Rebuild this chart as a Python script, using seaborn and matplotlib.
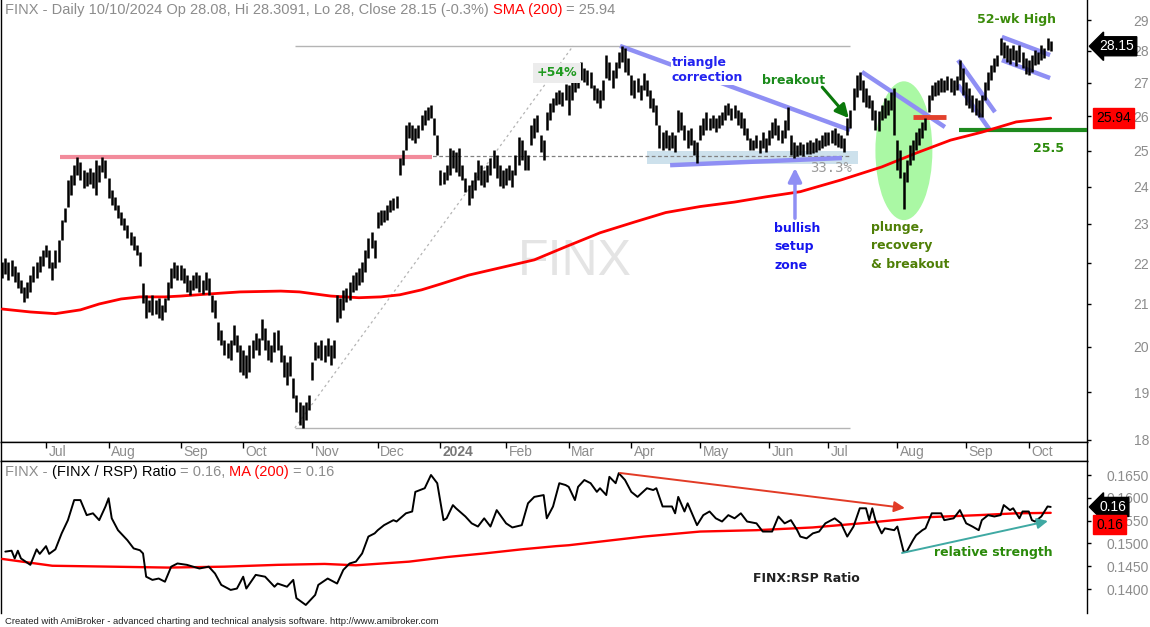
import numpy as np
import pandas as pd
import matplotlib
matplotlib.use("Agg")
import matplotlib.pyplot as plt
import seaborn as sns
from matplotlib.patches import Ellipse, Rectangle

# ---------------- data ----------------
holidays = ["2023-06-19", "2023-07-04", "2023-09-04", "2023-11-23", "2023-12-25",
            "2024-01-01", "2024-01-15", "2024-02-19", "2024-03-29", "2024-05-27",
            "2024-06-19", "2024-07-04", "2024-09-02"]
dates = pd.bdate_range("2023-06-12", "2024-10-10")
dates = dates[~dates.isin(pd.to_datetime(holidays))]

high = [
    # Jun 2023
    22.03, 22.13, 22.03, 22.08, 21.93, 21.78, 21.58, 21.41, 21.53, 21.70, 21.93, 22.03, 22.18, 22.33,
    # Jul
    22.46, 22.33, 22.03, 22.33, 22.59, 23.10, 23.42, 24.18, 24.32, 24.60, 24.82, 24.68, 24.46, 24.40,
    24.51, 24.40, 24.73, 24.60, 24.82, 24.73,
    # Aug
    24.24, 23.91, 23.72, 23.50, 23.32, 23.15, 22.97, 22.79, 22.69, 22.46, 22.28, 21.51, 21.22, 21.10,
    21.22, 21.10, 21.15, 20.98, 21.15, 21.53, 21.88, 22.03, 21.96,
    # Sep
    21.96, 21.88, 21.70, 21.58, 21.70, 21.78, 21.70, 21.58, 21.78, 21.63, 21.22, 21.10, 20.58, 20.39,
    20.16, 20.09, 20.16, 20.51, 20.28, 20.05,
    # Oct
    19.93, 19.82, 20.05, 20.16, 20.32, 20.20, 20.65, 20.44, 20.16, 20.05, 20.34, 20.39, 20.05, 19.82,
    19.66, 19.80, 19.30, 18.93, 18.79, 18.72, 18.79, 18.93,
    # Nov
    19.66, 20.11, 20.05, 20.16, 20.05, 20.20, 20.05, 20.16, 21.22, 21.15, 21.34, 21.39, 21.53, 21.70,
    21.78, 21.88, 22.03, 22.33, 22.64, 22.79, 22.59,
    # Dec
    23.31, 23.37, 23.37, 23.50, 23.64, 23.70, 23.75, 24.79, 25.02, 25.74, 25.83, 25.74, 25.65, 25.74,
    26.03, 26.18, 26.27, 26.33, 25.95, 25.45,
    # Jan 2024
    24.46, 24.40, 24.60, 25.08, 25.02, 24.96, 25.08, 24.60, 24.24, 24.05, 24.18, 24.40, 24.73, 24.60,
    24.46, 24.60, 24.79, 25.02, 24.88, 24.60, 24.46,
    # Feb
    24.51, 24.60, 24.46, 24.88, 25.39, 25.30, 25.02, 24.88, 25.74, 25.95, 26.03, 25.45, 25.30, 26.12,
    26.39, 26.54, 26.72, 26.78, 26.72, 26.97,
    # Mar
    26.94, 27.09, 27.25, 27.34, 27.65, 27.46, 27.40, 27.34, 26.94, 26.84, 26.78, 27.09, 27.87, 27.65,
    27.40, 27.65, 27.97, 28.16, 28.10, 27.78,
    # Apr
    27.25, 27.09, 27.15, 26.94, 27.31, 27.09, 26.78, 26.54, 26.33, 25.74, 25.54, 25.59, 25.45, 25.54,
    25.45, 26.18, 26.12, 25.74, 25.59, 25.65, 25.30, 25.25,
    # May
    25.74, 25.95, 26.12, 25.95, 26.03, 25.95, 26.03, 26.12, 26.33, 26.39, 26.24, 26.33, 26.18, 26.12,
    25.95, 25.65, 25.36, 25.30, 25.45, 25.30, 25.54, 25.36,
    # Jun
    25.59, 25.83, 25.95, 25.74, 25.59, 25.89, 26.27, 25.45, 25.25, 25.16, 25.25, 25.19, 25.25, 25.30,
    25.25, 25.36, 25.30, 25.45, 25.54,
    # Jul
    25.54, 25.59, 25.65, 25.50, 25.45, 25.36, 25.95, 26.18, 26.84, 27.25, 27.34, 27.09, 26.84, 26.63,
    26.48, 26.18, 26.15, 26.33, 26.54, 26.48, 26.72, 26.84,
    # Aug
    25.30, 25.02, 24.40, 24.73, 25.16, 25.30, 25.54, 25.65, 25.83, 25.95, 26.63, 26.94, 27.03, 27.09,
    27.15, 27.09, 27.21, 27.15, 27.09, 27.21, 27.71, 27.46,
    # Sep
    27.03, 26.84, 26.63, 26.54, 26.48, 26.63, 27.03, 27.34, 27.56, 27.78, 27.87, 28.41, 28.29, 28.19,
    28.10, 28.19, 28.03, 28.19, 27.97, 27.78,
    # Oct
    27.71, 27.87, 28.03, 27.97, 28.19, 28.10, 28.41, 28.31,
]

low = [
    # Jun 2023
    21.63, 21.73, 21.58, 21.68, 21.53, 21.39, 21.27, 21.05, 21.15, 21.29, 21.53, 21.63, 21.78, 21.93,
    # Jul
    22.16, 21.88, 21.58, 21.88, 22.03, 22.59, 23.05, 23.45, 23.78, 24.05, 24.32, 24.18, 23.96, 24.02,
    24.07, 23.96, 23.78, 24.13, 24.40, 24.24,
    # Aug
    23.69, 23.50, 23.37, 23.15, 22.97, 22.84, 22.64, 22.46, 22.33, 22.21, 21.93, 21.03, 20.67, 20.81,
    20.74, 20.76, 20.67, 20.62, 20.81, 21.10, 21.39, 21.63, 21.58,
    # Sep
    21.58, 21.51, 21.29, 21.22, 21.34, 21.39, 21.29, 21.25, 21.34, 21.22, 20.81, 20.67, 20.16, 20.05,
    19.82, 19.75, 19.71, 20.05, 19.89, 19.44,
    # Oct
    19.37, 19.30, 19.44, 19.75, 19.93, 19.82, 20.16, 19.93, 19.71, 19.66, 19.89, 19.93, 19.66, 19.33,
    19.15, 19.35, 18.87, 18.58, 18.31, 18.24, 18.41, 18.62,
    # Nov
    19.26, 19.71, 19.75, 19.71, 19.66, 19.80, 19.60, 19.75, 20.58, 20.67, 20.86, 21.05, 21.10, 21.29,
    21.34, 21.46, 21.53, 21.78, 22.13, 22.38, 22.13,
    # Dec
    22.89, 22.97, 23.05, 23.10, 23.31, 23.37, 23.42, 24.32, 24.60, 25.02, 25.36, 25.30, 25.22, 25.36,
    25.59, 25.74, 25.89, 25.95, 25.45, 24.88,
    # Jan 2024
    24.05, 24.07, 24.18, 24.32, 24.51, 24.40, 24.29, 24.18, 23.86, 23.50, 23.69, 23.91, 24.18, 24.05,
    23.99, 24.13, 24.32, 24.51, 24.24, 24.02, 23.96,
    # Feb
    24.05, 24.18, 23.99, 24.32, 24.60, 24.73, 24.46, 24.46, 25.16, 25.36, 25.54, 24.96, 24.73, 25.59,
    25.89, 26.12, 26.33, 26.36, 26.30, 26.48,
    # Mar
    26.03, 26.48, 26.72, 26.84, 27.09, 27.03, 26.94, 26.84, 26.48, 26.39, 26.24, 26.48, 27.15, 27.09,
    26.84, 27.15, 27.46, 27.65, 27.34, 27.25,
    # Apr
    26.63, 26.54, 26.72, 26.48, 26.78, 26.60, 26.24, 26.12, 25.74, 25.08, 25.02, 25.08, 25.02, 25.08,
    24.96, 25.54, 25.59, 25.30, 25.08, 25.16, 24.88, 24.65,
    # May
    25.30, 25.45, 25.59, 25.59, 25.65, 25.54, 25.65, 25.74, 25.89, 26.03, 25.89, 25.95, 25.74, 25.65,
    25.45, 25.30, 25.02, 25.02, 25.08, 24.94, 25.08, 24.96,
    # Jun
    25.16, 25.36, 25.45, 25.30, 25.22, 25.36, 25.59, 24.88, 24.79, 24.85, 24.88, 24.85, 24.91, 24.91,
    24.94, 24.96, 25.02, 25.08, 25.13,
    # Jul
    25.16, 25.22, 25.16, 25.11, 25.08, 24.96, 25.45, 25.65, 26.18, 26.57, 26.78, 26.42, 26.27, 26.24,
    25.89, 25.59, 25.56, 25.89, 25.95, 26.03, 26.18, 25.45,
    # Aug
    24.46, 24.24, 23.40, 24.13, 24.60, 24.73, 25.02, 25.16, 25.36, 25.59, 26.12, 26.48, 26.60, 26.63,
    26.72, 26.72, 26.78, 26.72, 26.63, 26.78, 27.09, 26.63,
    # Sep
    26.33, 26.24, 26.12, 26.03, 25.98, 25.98, 26.48, 26.78, 27.09, 27.34, 27.53, 27.87, 27.78, 27.65,
    27.59, 27.71, 27.53, 27.65, 27.46, 27.28,
    # Oct
    27.25, 27.34, 27.56, 27.59, 27.71, 27.78, 28.03, 28.00,
]

# 200-day SMA of price (bar number, value)
sma_bar = [0, 9, 17, 25, 31, 38, 44, 52, 57, 66, 76, 89, 95, 105, 114, 121, 127, 134, 140, 149,
           159, 170, 180, 191, 202, 212, 223, 234, 244, 255, 268, 281, 292, 303, 313, 324, 335]
sma_val = [20.88, 20.81, 20.77, 20.86, 21.00, 21.12, 21.17, 21.17, 21.19, 21.24, 21.29, 21.31,
           21.29, 21.19, 21.15, 21.17, 21.22, 21.34, 21.48, 21.70, 21.88, 22.08, 22.41, 22.77,
           23.05, 23.30, 23.46, 23.58, 23.72, 23.86, 24.18, 24.54, 24.93, 25.30, 25.53, 25.83, 25.94]

# FINX / RSP ratio (bar number, value)
ratio_bar = [1, 3, 4, 5, 6, 9, 11, 12, 14, 15, 17, 19, 21, 22, 23, 25, 27, 29, 31, 33, 34, 35, 37,
             40, 42, 44, 45, 46, 48, 50, 52, 54, 56, 59, 61, 63, 66, 68, 70, 73, 75, 77, 78, 81,
             84, 87, 88, 91, 93, 94, 97, 100, 101, 104, 107, 109, 111, 113, 115, 117, 119, 120,
             122, 125, 126, 129, 131, 132, 135, 137, 139, 141, 142, 144, 145, 148, 150, 152, 154,
             156, 158, 161, 163, 166, 168, 170, 173, 174, 176, 178, 180,
             181, 183, 184, 186, 188, 190, 191, 193, 194, 196, 197, 199, 201, 203, 206, 208, 209,
             211, 214, 215, 216, 218, 219, 222, 224, 226, 228, 230, 232, 234, 236, 238, 241, 243,
             246, 248, 250, 252, 254, 255, 257, 259, 261, 263, 266, 268, 270, 272, 274, 276, 277,
             278, 279, 281, 282, 285, 286, 288, 289, 291, 292, 294, 295, 297, 300, 301, 304, 306,
             308, 310, 312, 313, 315, 317, 319, 320, 322, 323, 325, 326, 328, 329, 330, 332, 333,
             334, 335]
ratio_val = [0.1482, 0.1484, 0.1467, 0.1484, 0.1467, 0.1453, 0.1487, 0.1477, 0.1494, 0.1477,
             0.1487, 0.1522, 0.1551, 0.1573, 0.1595, 0.1595, 0.1562, 0.1566, 0.1551, 0.1581,
             0.1599, 0.1555, 0.1529, 0.1507, 0.1489, 0.1485, 0.1478, 0.1427, 0.1420, 0.1423,
             0.1416, 0.1449, 0.1456, 0.1453, 0.1449, 0.1445, 0.1449, 0.1434, 0.1409, 0.1398,
             0.1401, 0.1427, 0.1401, 0.1431, 0.1427, 0.1405, 0.1412, 0.1405, 0.1420, 0.1380,
             0.1365, 0.1387, 0.1409, 0.1423, 0.1412, 0.1442, 0.1456, 0.1460, 0.1478, 0.1515,
             0.1522, 0.1529, 0.1540, 0.1551, 0.1548, 0.1566, 0.1570, 0.1613, 0.1621, 0.1650,
             0.1632, 0.1551, 0.1555, 0.1584, 0.1577, 0.1559, 0.1544, 0.1537, 0.1555, 0.1537,
             0.1573, 0.1544, 0.1535, 0.1540, 0.1588, 0.1602, 0.1606, 0.1555, 0.1581, 0.1632,
             0.1628,
             0.1624, 0.1595, 0.1624, 0.1639, 0.1632, 0.1613, 0.1621, 0.1606, 0.1646, 0.1632,
             0.1654, 0.1639, 0.1613, 0.1602, 0.1621, 0.1617, 0.1621, 0.1581, 0.1581, 0.1566,
             0.1602, 0.1570, 0.1588, 0.1540, 0.1562, 0.1570, 0.1555, 0.1548, 0.1562, 0.1555,
             0.1566, 0.1548, 0.1544, 0.1526, 0.1526, 0.1559, 0.1544, 0.1551, 0.1529, 0.1515,
             0.1511, 0.1522, 0.1526, 0.1544, 0.1555, 0.1544, 0.1515, 0.1537, 0.1577, 0.1577,
             0.1551, 0.1577, 0.1551, 0.1522, 0.1533, 0.1529, 0.1537, 0.1482, 0.1482, 0.1507,
             0.1518, 0.1529, 0.1533, 0.1566, 0.1566, 0.1551, 0.1555, 0.1573, 0.1544, 0.1537,
             0.1529, 0.1551, 0.1562, 0.1559, 0.1562, 0.1584, 0.1573, 0.1577, 0.1555, 0.1570,
             0.1570, 0.1551, 0.1548, 0.1559, 0.1570, 0.1581, 0.1580]

# 200-day MA of the ratio
ratio_ma_bar = [0, 16, 35, 53, 71, 88, 103, 113, 130, 142, 154, 166, 177, 181, 205, 223, 241,
                259, 276, 294, 312, 324, 335]
ratio_ma_val = [0.1466, 0.1451, 0.1449, 0.1447, 0.1449, 0.1453, 0.1455, 0.1452, 0.1460, 0.1470,
                0.1478, 0.1487, 0.1494, 0.1496, 0.1515, 0.1526, 0.1529, 0.1535, 0.1545, 0.1557,
                0.1562, 0.1566, 0.1567]

price_ticks = [18, 19, 20, 21, 22, 23, 24, 25, 26, 27, 28, 29]
ratio_ticks = [0.1400, 0.1450, 0.1500, 0.1550, 0.1600, 0.1650]
last_close = 28.15
last_sma = 25.94
level_25_5 = 25.58

n = min(len(dates), len(high), len(low))
bars = pd.DataFrame({"bar": np.arange(n), "high": high[:n], "low": low[:n]})

# ---------------- figure ----------------
sns.set_style("white")
plt.rcParams["font.family"] = ["Liberation Sans", "DejaVu Sans"]

W, H = 1150, 627
fig = plt.figure(figsize=(W / 100, H / 100), dpi=100)
fig.patch.set_facecolor("white")


def box(x0, y0, x1, y1):
    return [x0 / W, 1 - y1 / H, (x1 - x0) / W, (y1 - y0) / H]


ax1 = fig.add_axes(box(1, 0, 1087, 442))
axd = fig.add_axes(box(1, 442, 1087, 461))
ax2 = fig.add_axes(box(1, 461, 1087, 613))
XL = (-0.38, 346.6)

GRAY = "#8c8c8c"
LAV = "#8f8ff4"
ann = dict(family="DejaVu Sans", fontweight="bold", fontsize=9)

# ---- price panel ----
ax1.vlines(bars["bar"], bars["low"], bars["high"], color="black", lw=1.8, zorder=5)
sns.lineplot(x=sma_bar, y=sma_val, ax=ax1, color="#ff0000", lw=2.0, zorder=4)
ax1.set_yscale("log")
ax1.set_xlim(*XL)
ax1.set_ylim(17.95, 29.67)

lo_lvl = min(low)
hi_lvl = max(high[150:250])
ret_lvl = hi_lvl - (hi_lvl - lo_lvl) / 3
ax1.hlines([lo_lvl, hi_lvl], 93.5, 271, color="#b4b4b4", lw=1, zorder=2)
ax1.plot([93.5, 182.4], [lo_lvl, hi_lvl], color="#b4b4b4", lw=0.9, dashes=(2, 2.5), zorder=2)
ax1.hlines(ret_lvl, 93.5, 271, color="#808080", lw=0.9, linestyles=(0, (3, 2)), zorder=2)
ax1.hlines(24.82, 18.5, 137.3, color="#f28b9b", lw=3, zorder=3)
ax1.add_patch(Rectangle((206, 24.62), 67.4, 0.37, fc="#cde1ec", ec="none", zorder=1))

# green ellipse around the August plunge
c = ax1.transAxes.inverted().transform(ax1.transData.transform((288.1, 25.02)))
top = ax1.transAxes.inverted().transform(ax1.transData.transform((288.1, 27.05)))[1]
bot = ax1.transAxes.inverted().transform(ax1.transData.transform((288.1, 23.10)))[1]
ax1.add_patch(Ellipse((c[0], (top + bot) / 2), 18.2 / (XL[1] - XL[0]), top - bot,
                      transform=ax1.transAxes, fc="#aaf8a4", ec="none", zorder=1))

# trend lines
for (x0, y0), (x1, y1) in [((197.4, 28.16), (270.9, 25.59)),
                           ((213.4, 24.59), (268.3, 24.79)),
                           ((274.7, 27.34), (301.2, 25.68)),
                           ((305.4, 27.71), (317.2, 26.12)),
                           ((305.4, 26.94), (315.6, 25.59)),
                           ((319.4, 28.45), (334.8, 27.87)),
                           ((319.4, 27.71), (334.8, 27.15))]:
    ax1.plot([x0, x1], [y0, y1], color=LAV, lw=3.2, solid_capstyle="butt", zorder=3)
ax1.hlines(25.97, 291, 301.6, color="#e2412d", lw=3.5, zorder=3)
ax1.hlines(level_25_5, 305.7, XL[1], color="#1e8a1e", lw=3, zorder=3)

ax1.text(183, 22.03, "FINX", fontsize=36, color="#e4e4e4", ha="center", va="center", zorder=0)
ax1.text(214, 27.85, "triangle\ncorrection", color="#2323f0", ha="left", va="top",
         bbox=dict(fc="white", ec="none", pad=0.6), zorder=7, **ann)
ax1.text(242.8, 27.09, "breakout", color="#1a8a1a", ha="left", va="center", zorder=7, **ann)
ax1.annotate("", xy=(270.5, 25.94), xytext=(262.0, 26.87),
             arrowprops=dict(arrowstyle="-|>", color="#0b780b", lw=2.2, mutation_scale=20,
                             shrinkA=0, shrinkB=0), zorder=7)
ax1.text(324.2, 29.03, "52-wk High", color="#3c8c0c", ha="center", va="center", zorder=7, **ann)
ax1.text(334.4, 25.06, "25.5", color="#2a8a0a", ha="center", va="center", zorder=7, **ann)
ax1.text(246.6, 23.06, "bullish\nsetup\nzone", color="#1515ee", ha="left", va="top",
         linespacing=1.55, zorder=7, **ann)
ax1.annotate("", xy=(253.3, 24.51), xytext=(253.3, 23.15),
             arrowprops=dict(arrowstyle="-|>", color=LAV, lw=2.5, mutation_scale=20,
                             shrinkA=0, shrinkB=0), zorder=6)
ax1.text(277.6, 23.09, "plunge,\nrecovery\n& breakout", color="#4f7f06", ha="left", va="top",
         linespacing=1.55, zorder=7, **ann)
ax1.text(177.3, 27.31, "+54%", color="#1f9a1f", ha="center", va="center",
         bbox=dict(fc="#ececec", ec="none", pad=2.5), zorder=7, **ann)
ax1.text(258.1, 24.5, "33.3%", color="#9a9a9a", family="DejaVu Sans Mono", fontsize=10,
         ha="left", va="center", zorder=7)

ax1.yaxis.tick_right()
ax1.set_yticks(price_ticks)
ax1.set_yticklabels([str(t) for t in price_ticks])
ax1.minorticks_off()
ax1.set_xticks([])
ax1.set_xlabel("")
ax1.set_ylabel("")
ax1.tick_params(axis="y", length=3, width=1, color="black", labelcolor=GRAY, labelsize=10, pad=41.6)
for lab in ax1.get_yticklabels():
    lab.set_horizontalalignment("right")
ax1.annotate(f"{last_close:.2f}", xy=(1.0, last_close), xycoords=("axes fraction", "data"),
             xytext=(9, 0), textcoords="offset points", ha="left", va="center", color="white",
             fontsize=10, bbox=dict(boxstyle="larrow,pad=0.18", fc="black", ec="black"),
             annotation_clip=False, zorder=9)
ax1.annotate(f"{last_sma:.2f}", xy=(1.0, last_sma), xycoords=("axes fraction", "data"),
             xytext=(6.5, 0), textcoords="offset points", ha="left", va="center", color="black",
             fontsize=10, bbox=dict(boxstyle="square,pad=0.2", fc="#ff0000", ec="#ff0000"),
             annotation_clip=False, zorder=9)
for s in ["left", "right", "bottom"]:
    ax1.spines[s].set_color("black")
    ax1.spines[s].set_linewidth(1)
ax1.spines["top"].set_visible(False)

# ---- date strip ----
axd.set_xlim(*XL)
axd.set_ylim(0, 1)
axd.set_xticks([])
axd.set_yticks([])
month_start = [i for i in range(1, n) if dates[i].month != dates[i - 1].month]
axd.vlines(month_start, 0.68, 1, color="black", lw=1)
for i in month_start:
    d = dates[i]
    if d.month == 1:
        axd.text(i + 0.8, 0.47, str(d.year), color="#777777", fontsize=10, fontweight="bold",
                 ha="left", va="center")
    else:
        axd.text(i + 0.8, 0.47, d.strftime("%b"), color=GRAY, fontsize=10, ha="left", va="center")
for s in axd.spines.values():
    s.set_color("black")
    s.set_linewidth(1)

# ---- ratio panel ----
sns.lineplot(x=ratio_bar, y=ratio_val, ax=ax2, color="black", lw=1.4, zorder=4)
sns.lineplot(x=ratio_ma_bar, y=ratio_ma_val, ax=ax2, color="#ff0000", lw=1.7, zorder=3)
ax2.set_xlim(*XL)
ax2.set_ylim(0.13474, 0.16807)
ax2.set_xticks([])
ax2.set_xlabel("")
ax2.set_ylabel("")
ax2.yaxis.tick_right()
ax2.set_yticks(ratio_ticks)
ax2.set_yticklabels([f"{t:.4f}" for t in ratio_ticks])
ax2.tick_params(axis="y", length=3, width=1, color="black", labelcolor=GRAY, labelsize=10, pad=41.6)
for lab in ax2.get_yticklabels():
    lab.set_horizontalalignment("right")
ax2.annotate("", xy=(288.4, 0.15776), xytext=(197.4, 0.16544),
             arrowprops=dict(arrowstyle="-|>", color="#e23b26", lw=1.4, mutation_scale=16,
                             shrinkA=0, shrinkB=0), zorder=5)
ax2.annotate("", xy=(334.1, 0.1549), xytext=(287.5, 0.1479),
             arrowprops=dict(arrowstyle="-|>", color="#3fa9a3", lw=1.4, mutation_scale=16,
                             shrinkA=0, shrinkB=0), zorder=5)
ax2.text(316.7, 0.1479, "relative strength", color="#2a8a0a", ha="center", va="center", zorder=6,
         **ann)
ax2.text(256.8, 0.14241, "FINX:RSP Ratio", color="#222222", ha="center", va="center", zorder=6,
         **ann)
ax2.annotate(f"{ratio_val[-1]:.2f}", xy=(1.0, ratio_val[-1]), xycoords=("axes fraction", "data"),
             xytext=(9, 0), textcoords="offset points", ha="left", va="center", color="white",
             fontsize=10, bbox=dict(boxstyle="larrow,pad=0.18", fc="black", ec="black"),
             annotation_clip=False, zorder=9)
ax2.annotate(f"{ratio_ma_val[-1]:.2f}", xy=(1.0, ratio_ma_val[-1]),
             xycoords=("axes fraction", "data"), xytext=(6.5, -8.5), textcoords="offset points",
             ha="left", va="center", color="black", fontsize=10,
             bbox=dict(boxstyle="square,pad=0.2", fc="#ff0000", ec="#ff0000"),
             annotation_clip=False, zorder=9)
for s in ["left", "right", "top"]:
    ax2.spines[s].set_color("black")
    ax2.spines[s].set_linewidth(1)
ax2.spines["bottom"].set_visible(False)

# ---- headers and footer ----
renderer = fig.canvas.get_renderer()


def run_text(x_px, y_px, parts, size=10.5):
    space = 0.278 * size * 100 / 72
    x = x_px
    for s, col, gap in parts:
        x += gap * space
        t = fig.text(x / W, 1 - y_px / H, s, color=col, fontsize=size, ha="left", va="center")
        x += t.get_window_extent(renderer=renderer).width


run_text(5, 10, [("FINX - Daily 10/10/2024 Op 28.08, Hi 28.3091, Lo 28, Close 28.15 (-0.3%)", GRAY, 0),
                 ("SMA (200)", "#ff0000", 1), ("= 25.94", GRAY, 1)])
run_text(5, 472, [("FINX -", GRAY, 0), ("(FINX / RSP) Ratio", "black", 1), ("= 0.16,", GRAY, 1),
                  ("MA (200)", "#ff0000", 1), ("= 0.16", GRAY, 1)])
fig.text(5 / W, 1 - 621 / H, "Created with AmiBroker - advanced charting and technical analysis "
         "software. http://www.amibroker.com", fontsize=6.8, color="#222222", va="center")

fig.savefig("out.png", dpi=100, facecolor="white")
